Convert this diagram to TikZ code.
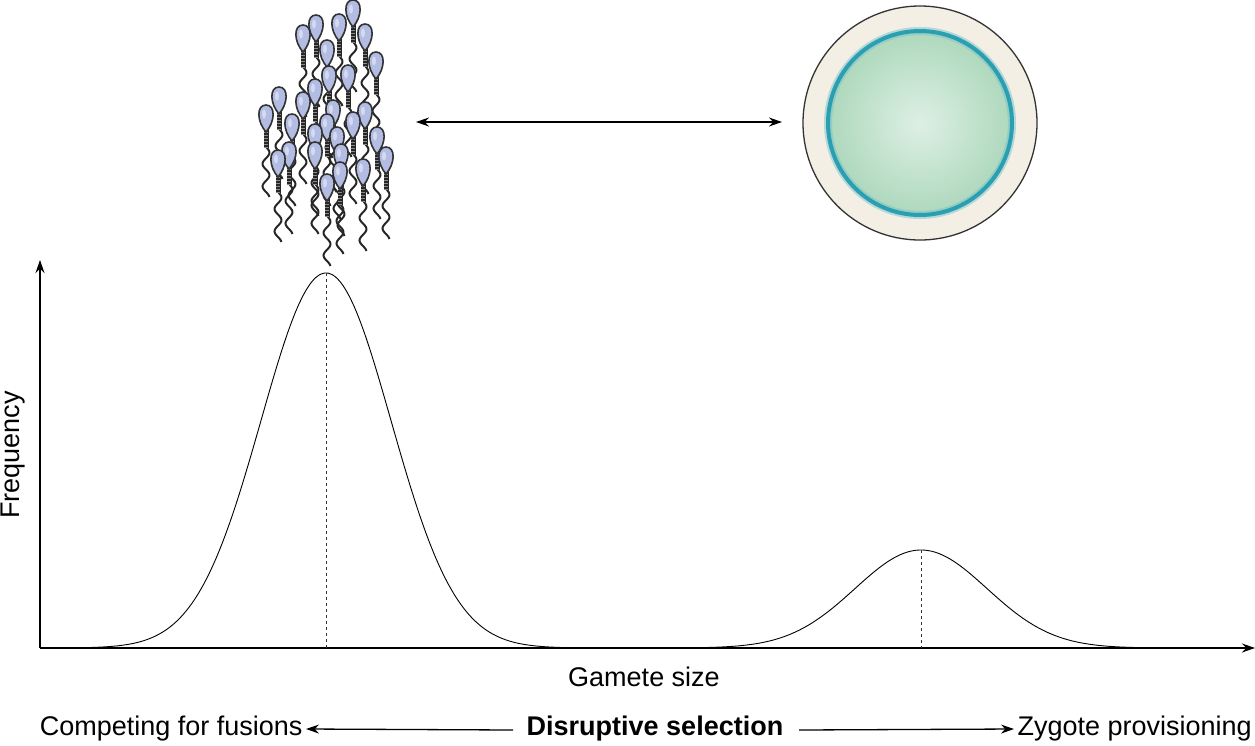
\documentclass[tikz,border=0pt]{standalone}
\usepackage{fontspec}
\setmainfont{Liberation Sans}
\usetikzlibrary{arrows.meta}
\definecolor{headc}{HTML}{B3BCE3}
\definecolor{eggc}{HTML}{F3EFE4}
\definecolor{teal}{HTML}{1E9AAE}
\definecolor{gin}{HTML}{DDF0E4}
\definecolor{gout}{HTML}{AED8BC}
\newcommand\spermat[2]{%
  \begin{scope}[shift={(#1,#2)}]
    \draw[black!85,line width=2pt,smooth] plot[domain=30:80,samples=30] ({3.5*sin((\x-30)*16)},\x);
    \draw[black!85,line width=5pt] (0,12) -- (0,31);
    \foreach \k in {15,18,...,30}{\draw[black!45,line width=0.4pt] (-2.2,\k) -- (2.2,\k);}
    \draw[black!80,line width=1.6pt,fill=headc] (0,-12) .. controls (-10,-12) and (-9,5) .. (0,15) .. controls (9,5) and (10,-12) .. (0,-12);
    \fill[white,opacity=0.45] (-2,-3) ellipse (2 and 4.5);
  \end{scope}}
\begin{document}
\begin{tikzpicture}[x=1pt,y=-1pt,
  arr/.style={-{Stealth[length=13pt,width=9pt]},line width=1.3pt},
  lbl/.style={font=\fontsize{27}{31}\selectfont}]
\useasboundingbox (0,0) rectangle (1255,745);
% sperm
\foreach \a/\b in {353/12,316/27,339/26,303/37,365/36,327/52,376/64,329/78,348/77,315/91,279/99,303/104,266/117,333/112,365/114,292/126,327/126,353/124,315/136,337/139,377/139,289/154,278/162,315/154,341/156,386/159,363/171,340/174,327/186}{\spermat{\a}{\b}}
% egg
\node[circle,draw=black!80,line width=1.3pt,fill=eggc,minimum size=234pt,inner sep=0] (egg) at (920,123) {};
\shade[inner color=gin,outer color=gout] (920,123) circle (92);
\draw[teal!60,line width=8pt,opacity=0.5] (920,123) circle (92);
\draw[teal,line width=4pt,opacity=0.9] (920,123) circle (92);
\coordinate (spR) at (416,122);
\coordinate (egL) at (782,122);
\draw[{Stealth[length=13pt,width=9pt]}-{Stealth[length=13pt,width=9pt]},line width=1.3pt] (spR) -- (egL);
% axes
\coordinate (O) at (40,648);
\coordinate (Ytop) at (40,260);
\coordinate (Xend) at (1255,648);
\draw[arr] (O) -- (Ytop);
\draw[arr] (O) -- (Xend);
% curves
\draw[line width=0.9pt] (40,648) -- (70,648) -- plot[domain=70:620,samples=150,smooth] (\x,{648-375*exp(-((\x-326)/65)^2/2)}) -- (640,648) -- plot[domain=640:1200,samples=120,smooth] (\x,{648-98*exp(-((\x-921)/66)^2/2)});
\draw[dashed,line width=0.8pt,black!80] (326,273) -- (326,648);
\draw[dashed,line width=0.8pt,black!80] (921,550) -- (921,648);
% labels
\node[lbl,rotate=90] (freq) at (13,455) {Frequency};
\node[lbl] (gs) at (644,677) {Gamete size};
\node[lbl] (ds) at (655,729) {\textbf{Disruptive selection}};
\node[lbl,anchor=east] (cf) at (306,729) {Competing for fusions};
\node[lbl,anchor=west] (zp) at (1014,729) {Zygote provisioning};
\coordinate (dl) at (513,730);
\coordinate (dr) at (799,730);
\draw[arr] (dl) -- (cf.east);
\draw[arr] (dr) -- (zp.west);
\end{tikzpicture}
\end{document}
